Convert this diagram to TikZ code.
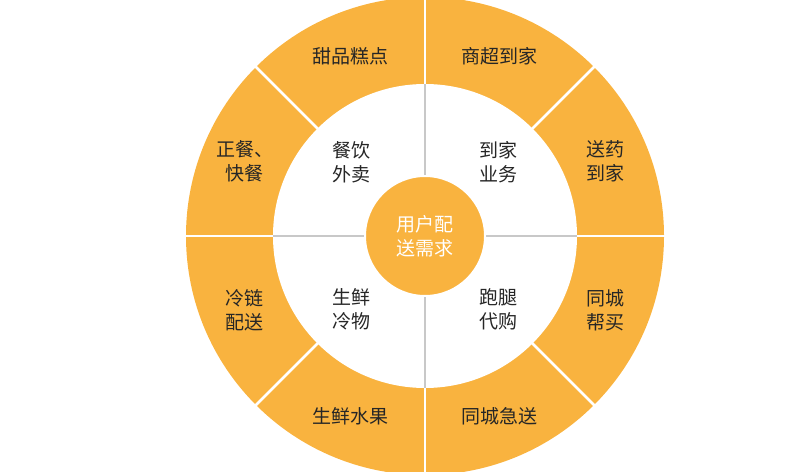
\documentclass[tikz,border=0pt]{standalone}
\usepackage{fontspec}
\usetikzlibrary{calc}
\newfontfamily\cjk{Noto Sans CJK SC}
\definecolor{org}{HTML}{F9B33F}
\definecolor{sep}{HTML}{C8C8C8}
\begin{document}
\begin{tikzpicture}[x=1pt,y=1pt,
  lab/.style={font=\cjk\fontsize{19}{24}\selectfont,align=center,text=black!85}]
\useasboundingbox (0,0) rectangle (800,-471);
\coordinate (C) at (425,-236);
\fill[org] (C) circle (239);
\foreach \a in {0,45,...,315} \draw[white,line width=2.5] (C) -- ++(\a:240);
\fill[white] (C) circle (152);
\draw[sep,line width=1.2] ([xshift=-152]C) -- ([xshift=152]C);
\draw[sep,line width=1.2] ([yshift=-152]C) -- ([yshift=152]C);
\fill[org,draw=white,line width=2] (C) circle (60);
\node[lab,text=white] (c) at (C) {用户配\\送需求};
\node[lab] (o1) at ($(C)+(67.5:195)$) {商超到家};
\node[lab] (o2) at ($(C)+(22.5:195)$) {送药\\到家};
\node[lab] (o3) at ($(C)+(-22.5:195)$) {同城\\帮买};
\node[lab] (o4) at ($(C)+(-67.5:195)$) {同城急送};
\node[lab] (o5) at ($(C)+(-112.5:195)$) {生鲜水果};
\node[lab] (o6) at ($(C)+(-157.5:195)$) {冷链\\配送};
\node[lab] (o7) at ($(C)+(157.5:195)$) {正餐、\\快餐};
\node[lab] (o8) at ($(C)+(112.5:195)$) {甜品糕点};
\node[lab] (i1) at ($(C)+(45:104)$) {到家\\业务};
\node[lab] (i2) at ($(C)+(-45:104)$) {跑腿\\代购};
\node[lab] (i3) at ($(C)+(-135:104)$) {生鲜\\冷物};
\node[lab] (i4) at ($(C)+(135:104)$) {餐饮\\外卖};
\end{tikzpicture}
\end{document}
